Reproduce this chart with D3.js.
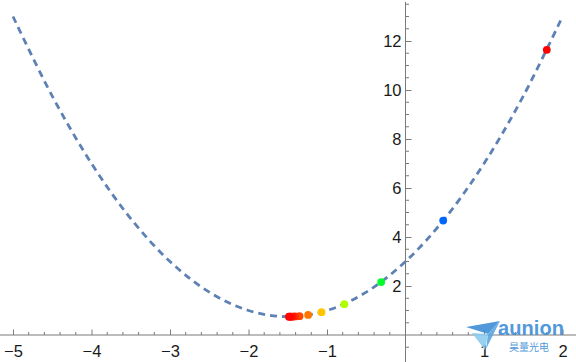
<!DOCTYPE html>
<html>
<head>
<meta charset="utf-8">
<script src="https://cdn.jsdelivr.net/npm/d3@7"></script>
<style>
  body { margin:0; background:#fff; }
  svg { display:block; }
  .tick text { font-family:"Liberation Sans", Arial, sans-serif; font-size:16.5px; fill:#1a1a1a; }
</style>
</head>
<body>
<svg id="chart" width="576" height="362"></svg>
<script>
// curve samples
var curveX = [-5, -4.5, -4, -3.5, -3, -2.5, -2, -1.5, -1, -0.5, 0, 0.5, 1, 1.5, 2];
var curveY = [13, 9.75, 7, 4.75, 3, 1.75, 1, 0.75, 1, 1.75, 3, 4.75, 7, 9.75, 13];

// iterate points
var ptX = [1.80, 0.48, -0.31, -0.78, -1.07, -1.24, -1.35, -1.41, -1.44, -1.46, -1.475, -1.485];
var ptY = [11.64, 4.67, 2.16, 1.26, 0.93, 0.82, 0.77, 0.76, 0.75, 0.75, 0.75, 0.75];
var ptColor = ["#ff0000", "#0066ff", "#00ff2a", "#b0ff00", "#ffc500", "#ff7700",
               "#ff4700", "#ff2b00", "#ff1a00", "#ff0f00", "#ff0900", "#ff0500"];

var xTicks = [-5, -4, -3, -2, -1, 1, 2];
var yTicks = [2, 4, 6, 8, 10, 12];

var W = 576, H = 362;
var svg = d3.select("#chart");

var x = d3.scaleLinear().domain([-5, 2]).range([13, 562.5]);
var y = d3.scaleLinear().domain([0, 12]).range([335, 41]);

var axisColor = "#7a7a7a";

// minor ticks
var xMinor = d3.range(-52, 23, 2).map(function(d) { return d / 10; })
    .filter(function(d) { return Math.abs(d - Math.round(d)) > 1e-6; });
var yMinor = d3.range(-1, 28, 1).map(function(d) { return d / 2; })
    .filter(function(d) { return d % 2 !== 0; });

var gx = svg.append("g").attr("transform", "translate(0," + y(0) + ")");
gx.append("line").attr("x1", 0).attr("x2", W).attr("stroke", axisColor);
gx.selectAll(".mn").data(xMinor).enter().append("line")
    .attr("x1", x).attr("x2", x).attr("y1", 0).attr("y2", -3)
    .attr("stroke", axisColor);
var xAxis = d3.axisBottom(x).tickValues(xTicks).tickSize(-5.5).tickPadding(10)
    .tickFormat(function(d) { return d < 0 ? "\u2212" + (-d) : d; });
gx.append("g").call(xAxis).call(function(g) {
    g.select(".domain").remove();
    g.selectAll(".tick line").attr("stroke", axisColor);
    g.selectAll(".tick text").attr("font-family", null).attr("font-size", null).attr("fill", null);
});

var gy = svg.append("g").attr("transform", "translate(" + x(0) + ",0)");
gy.append("line").attr("y1", 2).attr("y2", H).attr("stroke", axisColor);
gy.selectAll(".mn").data(yMinor).enter().append("line")
    .attr("y1", y).attr("y2", y).attr("x1", 0).attr("x2", 3.5)
    .attr("stroke", axisColor);
var yAxis = d3.axisLeft(y).tickValues(yTicks).tickSize(-6).tickPadding(4);
gy.append("g").call(yAxis).call(function(g) {
    g.select(".domain").remove();
    g.selectAll(".tick line").attr("stroke", axisColor);
    g.selectAll(".tick text").attr("font-family", null).attr("font-size", null).attr("fill", null);
});

// dashed curve
var line = d3.line()
    .x(function(d, i) { return x(curveX[i]); })
    .y(function(d, i) { return y(curveY[i]); })
    .curve(d3.curveCatmullRom);
svg.append("path")
    .attr("d", line(curveX))
    .attr("fill", "none")
    .attr("stroke", "#5e81b5")
    .attr("stroke-width", 2.8)
    .attr("stroke-dasharray", "7,5");

// points
svg.selectAll(".pt").data(ptX).enter().append("circle")
    .attr("cx", function(d) { return x(d); })
    .attr("cy", function(d, i) { return y(ptY[i]); })
    .attr("r", 3.9)
    .attr("fill", function(d, i) { return ptColor[i]; });

// watermark
var wm = svg.append("g").attr("opacity", 0.9);
wm.append("path").attr("d", "M466,327 L500,321 L488,334 Z").attr("fill", "#3f8fd8");
wm.append("path").attr("d", "M472,333 L488,334 L485,350 Z").attr("fill", "#8dcbef");
wm.append("path").attr("d", "M488,334 L500,321 L486,349 Z").attr("fill", "#5aa7e2");
wm.append("text").attr("x", 498).attr("y", 335)
    .attr("font-family", "Liberation Sans, Arial, sans-serif").attr("font-weight", "bold")
    .attr("font-size", 20).attr("fill", "#3f8fd8").attr("textLength", 66).text("aunion");
wm.append("text").attr("x", 509).attr("y", 351)
    .attr("font-family", "Noto Sans CJK SC, sans-serif")
    .attr("font-size", 10).attr("fill", "#3f8fd8").attr("textLength", 40).text("昊量光电");
</script>
</body>
</html>
